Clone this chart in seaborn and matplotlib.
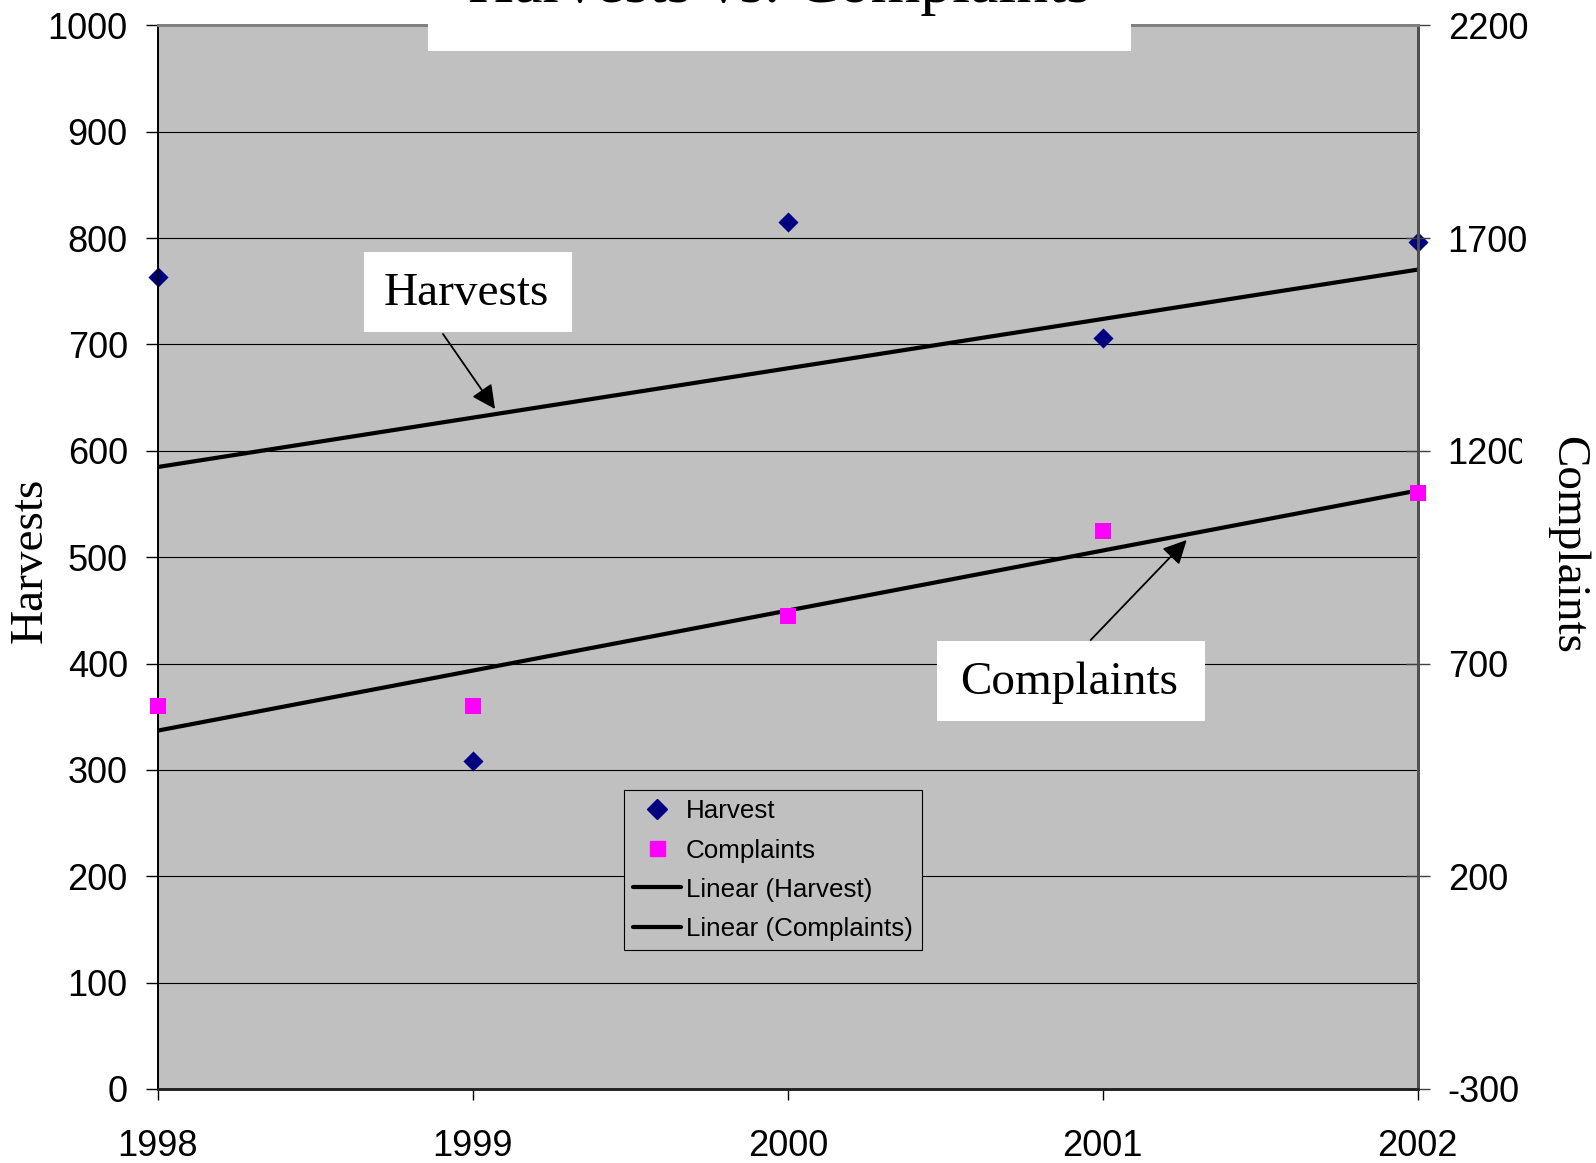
import matplotlib
matplotlib.use("Agg")
import matplotlib.pyplot as plt
import seaborn as sns
import pandas as pd
from matplotlib.lines import Line2D
from matplotlib.patches import Rectangle

# values
years = [1998, 1999, 2000, 2001, 2002]
harvest = [763, 308, 815, 706, 796]
complaints = [600, 600, 812, 1011, 1100]

harvest_ticks = list(range(0, 1001, 100))
complaint_ticks = list(range(-300, 2201, 500))

legend_labels = ["Harvest", "Complaints", "Linear (Harvest)", "Linear (Complaints)"]

df = pd.DataFrame({"year": years, "harvest": harvest, "complaints": complaints})

sns.set_style("ticks", {"axes.facecolor": "#c0c0c0"})
plt.rcParams["font.family"] = ["Liberation Sans", "DejaVu Sans"]
plt.rcParams["text.color"] = "black"
plt.rcParams["xtick.color"] = "black"
plt.rcParams["ytick.color"] = "black"
plt.rcParams["axes.unicode_minus"] = False
SERIF = ["Liberation Serif", "DejaVu Serif"]

W, H = 1596, 1163


def px(x, y):
    # pixel position (from top-left) -> figure fraction
    return (x / W, 1 - y / H)


fig = plt.figure(figsize=(W / 100, H / 100), dpi=100)
fig.patch.set_facecolor("white")
ax1 = fig.add_axes([157.8 / W, 1 - 1089 / H, 1260 / W, 1063.6 / H])
ax2 = ax1.twinx()

# harvest on the left axis
sns.scatterplot(data=df, x="year", y="harvest", ax=ax1, marker="D", s=105,
                color="#000080", linewidth=0, clip_on=False, zorder=4, legend=False)
sns.regplot(data=df, x="year", y="harvest", ax=ax1, scatter=False, ci=None,
            color="black", line_kws={"lw": 3, "zorder": 3})

# complaints on the right axis
sns.scatterplot(data=df, x="year", y="complaints", ax=ax2, marker="s", s=117,
                color="#ff00ff", linewidth=0, clip_on=False, zorder=4, legend=False)
sns.regplot(data=df, x="year", y="complaints", ax=ax2, scatter=False, ci=None,
            color="black", line_kws={"lw": 3, "zorder": 3})

ax1.set_xlim(years[0], years[-1])
ax1.set_ylim(harvest_ticks[0], harvest_ticks[-1])
ax2.set_ylim(complaint_ticks[0], complaint_ticks[-1])
ax1.set_xticks(years)
ax1.set_yticks(harvest_ticks)
ax2.set_yticks(complaint_ticks)
for a in (ax1, ax2):
    a.set_xlabel("")
    a.set_ylabel("")

ax1.yaxis.grid(True, color="black", lw=0.8)
ax1.xaxis.grid(False)

ax1.tick_params(axis="y", direction="out", length=8.6, width=1, pad=13,
                labelsize=26, color="black", labelcolor="black")
ax1.tick_params(axis="x", direction="out", length=8, width=1, pad=21,
                labelsize=26, color="black", labelcolor="black")
ax2.tick_params(axis="y", direction="inout", length=17, width=1, pad=13,
                labelsize=26, color="#404040", labelcolor="black")

for a in (ax1, ax2):
    a.spines["left"].set_color("black")
    a.spines["left"].set_linewidth(1.3)
    a.spines["bottom"].set_color("#202020")
    a.spines["bottom"].set_linewidth(1.8)
    a.spines["top"].set_color("#808080")
    a.spines["top"].set_linewidth(2)
    a.spines["right"].set_color("#505050")
    a.spines["right"].set_linewidth(2)

# legend
handles = [
    Line2D([], [], marker="D", color="#000080", ls="none", markersize=10.2),
    Line2D([], [], marker="s", color="#ff00ff", ls="none", markersize=10.8),
    Line2D([], [], color="black", lw=3),
    Line2D([], [], color="black", lw=3),
]
leg = ax2.legend(handles, legend_labels, loc="lower left",
                 bbox_to_anchor=(0.370, 0.1307), borderaxespad=0,
                 fontsize=18.7, handlelength=1.85, handletextpad=0.18,
                 labelspacing=0.58, borderpad=0.36, frameon=True,
                 fancybox=False, framealpha=1, edgecolor="black")
leg.get_frame().set_linewidth(0.8)
leg.set_zorder(10)

# axis labels
fig.text(*px(30.5, 560), "Harvests", rotation=90, ha="center", va="center",
         fontsize=34, family=SERIF)
fig.text(*px(1567, 545), "Complaints", rotation=270, ha="center", va="center",
         fontsize=34, family=SERIF, zorder=6,
         bbox=dict(boxstyle="square,pad=0.5", fc="white", ec="none"))

# title box, mostly cut off at the top
fig.patches.append(Rectangle(px(428, 50.7), (1131 - 428) / W, 50.7 / H,
                             transform=fig.transFigure, fc="white", ec="none",
                             zorder=5))
fig.text(*px(779, 2), "Harvests vs. Complaints", ha="center", va="baseline",
         fontsize=46, family=SERIF, zorder=6)

# callout boxes with arrows
for (x0, y0, x1, y1), label in [((364, 252, 572, 332), "Harvests"),
                                ((937, 641, 1205, 721), "Complaints")]:
    fig.patches.append(Rectangle(px(x0, y1), (x1 - x0) / W, (y1 - y0) / H,
                                 transform=fig.transFigure, fc="white",
                                 ec="none", zorder=5))
    fig.text(*px((x0 + x1) / 2 - 2, (y0 + y1) / 2 + 2), label, ha="center",
             va="center", fontsize=34, family=SERIF, zorder=6)

for start, tip in [((443, 334), (495, 409)), ((1090.7, 640), (1186.7, 540))]:
    ax2.annotate("", xy=px(*tip), xytext=px(*start), xycoords=fig.transFigure,
                 textcoords=fig.transFigure,
                 arrowprops=dict(arrowstyle="-|>,head_length=0.72,head_width=0.36",
                                 mutation_scale=20, color="black", lw=1.3,
                                 shrinkA=0, shrinkB=0))

fig.savefig("out.png", dpi=100)
